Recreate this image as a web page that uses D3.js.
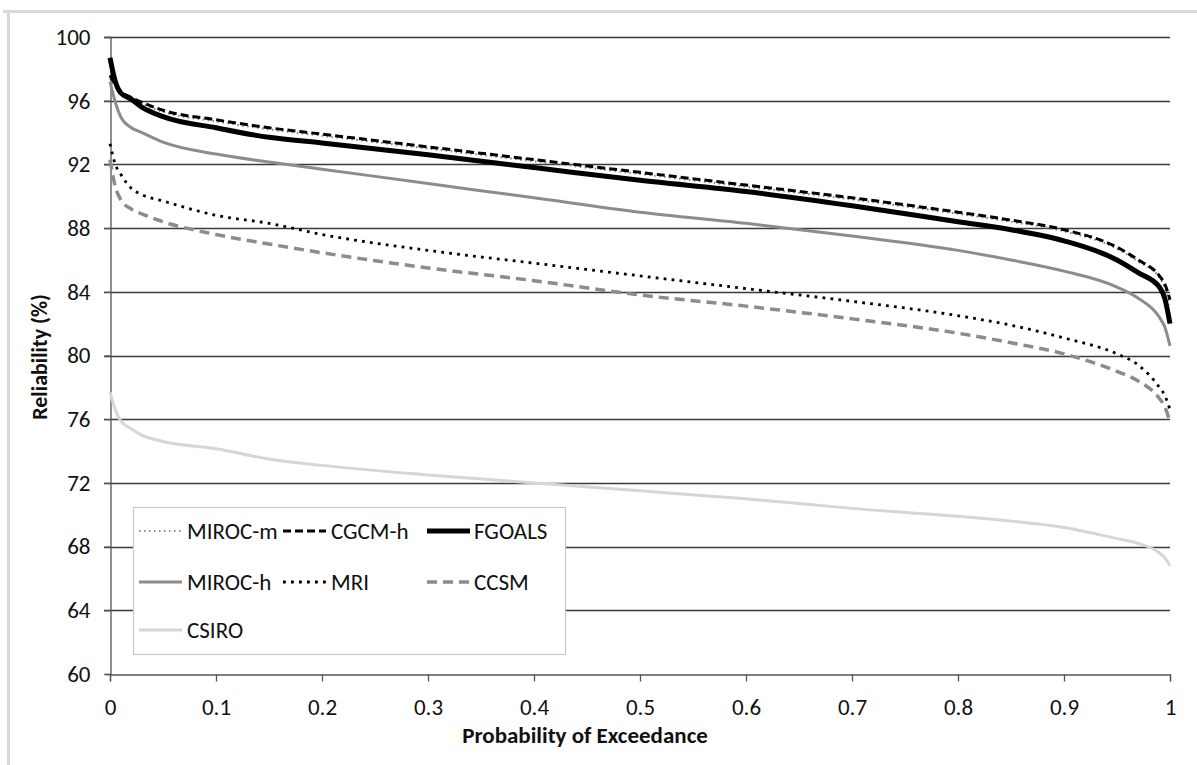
<!DOCTYPE html>
<html>
<head>
<meta charset="utf-8">
<script src="https://cdn.jsdelivr.net/npm/d3@7/dist/d3.min.js"></script>
<style>
  html, body { margin: 0; padding: 0; background: #fff; }
  svg { display: block; }
  text { font-family: Carlito, Lato, "Open Sans", sans-serif; fill: #111; }
</style>
</head>
<body>
<svg id="chart" width="1197" height="765"></svg>
<script>
// Exceedance probabilities shared by every model curve
const prob = [0, 0.005, 0.01, 0.02, 0.03, 0.05, 0.1, 0.15, 0.2, 0.3, 0.4, 0.5, 0.6, 0.7, 0.8, 0.85, 0.9, 0.95, 0.97, 0.99, 0.995, 1];

// Reliability (%) for each climate model
const mirocM = [97.4, 96.9, 96.5, 96.1, 95.8, 95.3, 94.7, 94.2, 93.8, 93.0, 92.2, 91.4, 90.6, 89.8, 88.9, 88.4, 87.8, 86.7, 85.9, 84.9, 84.3, 83.2];
const cgcmH  = [97.6, 97.0, 96.6, 96.2, 95.9, 95.4, 94.8, 94.3, 93.9, 93.1, 92.3, 91.5, 90.7, 89.9, 89.0, 88.5, 87.9, 86.8, 86.0, 85.0, 84.5, 83.5];
const fgoals = [98.7, 97.2, 96.5, 96.1, 95.6, 95.0, 94.3, 93.7, 93.35, 92.6, 91.8, 91.0, 90.3, 89.4, 88.4, 87.9, 87.2, 86.0, 85.2, 84.3, 83.6, 82.0];
const mirocH = [97.2, 95.9, 95.0, 94.3, 94.0, 93.4, 92.65, 92.15, 91.7, 90.8, 89.9, 89.0, 88.3, 87.5, 86.6, 86.0, 85.3, 84.3, 83.6, 82.4, 81.8, 80.6];
const mri    = [93.3, 92.0, 91.4, 90.5, 90.1, 89.7, 88.8, 88.3, 87.6, 86.6, 85.8, 85.0, 84.2, 83.4, 82.5, 81.9, 81.1, 80.1, 79.4, 78.0, 77.5, 76.6];
const ccsm   = [92.3, 90.6, 89.8, 89.2, 88.9, 88.4, 87.6, 87.0, 86.45, 85.5, 84.7, 83.8, 83.1, 82.3, 81.4, 80.8, 80.1, 79.0, 78.4, 77.3, 76.8, 75.8];
const csiro  = [77.7, 76.6, 75.9, 75.4, 75.0, 74.6, 74.15, 73.5, 73.1, 72.5, 72.0, 71.5, 71.0, 70.4, 69.9, 69.6, 69.2, 68.5, 68.2, 67.6, 67.3, 66.8];

const seriesNames = ["MIROC-m", "CGCM-h", "FGOALS", "MIROC-h", "MRI", "CCSM", "CSIRO"];
const xTicks = [0, 0.1, 0.2, 0.3, 0.4, 0.5, 0.6, 0.7, 0.8, 0.9, 1];
const yTicks = [60, 64, 68, 72, 76, 80, 84, 88, 92, 96, 100];

// Line styles per series
const styles = {
  "MIROC-m": { color: "#8a8a8a", width: 2.2, dash: "1.5,3.5" },
  "CGCM-h":  { color: "#000000", width: 3,   dash: "8,4" },
  "FGOALS":  { color: "#000000", width: 5,   dash: null },
  "MIROC-h": { color: "#8c8c8c", width: 3,   dash: null },
  "MRI":     { color: "#000000", width: 2.8, dash: "2.8,5.2" },
  "CCSM":    { color: "#8c8c8c", width: 3.5, dash: "10,6" },
  "CSIRO":   { color: "#d6d6d6", width: 3,   dash: null }
};

const seriesValues = [mirocM, cgcmH, fgoals, mirocH, mri, ccsm, csiro];
const series = seriesNames.map((name, i) => ({
  name,
  points: prob.map((p, j) => ({ p, v: seriesValues[i][j] }))
}));

const svg = d3.select("#chart");

// Outer frame (top and left edges)
svg.append("line").attr("x1", 3).attr("x2", 1197).attr("y1", 11.5).attr("y2", 11.5)
  .attr("stroke", "#d9d9d9").attr("stroke-width", 3);
svg.append("line").attr("x1", 8.5).attr("x2", 8.5).attr("y1", 10).attr("y2", 765)
  .attr("stroke", "#d9d9d9").attr("stroke-width", 3);

const margin = { left: 110, right: 27, top: 37, bottom: 91 };
const W = 1197, H = 765;
const x = d3.scaleLinear().domain([0, 1]).range([margin.left, W - margin.right]);
const y = d3.scaleLinear().domain([60, 100]).range([H - margin.bottom, margin.top]);

// Horizontal gridlines
svg.append("g").selectAll("line").data(yTicks.filter(t => t > 60)).join("line")
  .attr("x1", x(0) - 6).attr("x2", x(1))
  .attr("y1", d => Math.round(y(d)) + 0.5).attr("y2", d => Math.round(y(d)) + 0.5)
  .attr("stroke", "#3a3a3a").attr("stroke-width", 1.3);

const tickFont = "Carlito, Lato, 'Open Sans', sans-serif";
const fs = 23;

// Y axis
const yAxis = svg.append("g").attr("transform", `translate(${Math.round(x(0)) + 0.5},0)`)
  .call(d3.axisLeft(y).tickValues(yTicks).tickSize(6).tickPadding(14).tickFormat(d3.format("d")));
yAxis.select(".domain").attr("stroke", "#555").attr("stroke-width", 1.3);
yAxis.selectAll(".tick line").attr("stroke", "#555").attr("stroke-width", 1.3);
yAxis.selectAll(".tick text").attr("font-size", fs).attr("font-family", tickFont).attr("fill", "#111");

// X axis
const xAxis = svg.append("g").attr("transform", `translate(0,${Math.round(y(60)) + 0.5})`)
  .call(d3.axisBottom(x).tickValues(xTicks).tickSize(7).tickPadding(17)
    .tickFormat(d => d === 0 || d === 1 ? d3.format("d")(d) : d3.format(".1f")(d)));
xAxis.select(".domain").attr("stroke", "#555").attr("stroke-width", 1.3);
xAxis.selectAll(".tick line").attr("stroke", "#555").attr("stroke-width", 1.3);
xAxis.selectAll(".tick text").attr("font-size", fs).attr("font-family", tickFont).attr("fill", "#111");

// Curves
const line = d3.line().x(d => x(d.p)).y(d => y(d.v)).curve(d3.curveMonotoneX);
svg.append("g").selectAll("path").data(series).join("path")
  .attr("d", d => line(d.points))
  .attr("fill", "none")
  .attr("stroke", d => styles[d.name].color)
  .attr("stroke-width", d => styles[d.name].width)
  .attr("stroke-dasharray", d => styles[d.name].dash)
  .attr("stroke-linejoin", "round");

// Axis titles
svg.append("text").attr("x", 585).attr("y", 743).attr("text-anchor", "middle")
  .attr("font-size", 23).attr("font-weight", "bold").text("Probability of Exceedance");
svg.append("text").attr("transform", "translate(47,357) rotate(-90)").attr("text-anchor", "middle")
  .attr("font-size", 22).attr("font-weight", "bold").text("Reliability (%)");

// Legend
const lg = svg.append("g");
lg.append("rect").attr("x", 133.5).attr("y", 507.5).attr("width", 432).attr("height", 147)
  .attr("fill", "#fff").attr("stroke", "#c8c8c8").attr("stroke-width", 1.2);
const legendPos = [
  { sx: 139, tx: 187, y: 531 }, { sx: 283, tx: 331, y: 531 }, { sx: 427, tx: 474, y: 531 },
  { sx: 139, tx: 187, y: 582 }, { sx: 283, tx: 331, y: 582 }, { sx: 427, tx: 474, y: 582 },
  { sx: 139, tx: 187, y: 630 }
];
seriesNames.forEach((name, i) => {
  const pos = legendPos[i], st = styles[name];
  lg.append("line").attr("x1", pos.sx).attr("x2", pos.sx + 43).attr("y1", pos.y).attr("y2", pos.y)
    .attr("stroke", st.color).attr("stroke-width", st.width).attr("stroke-dasharray", st.dash);
  lg.append("text").attr("x", pos.tx).attr("y", pos.y).attr("dy", "0.35em")
    .attr("font-size", fs).text(name);
});
</script>
</body>
</html>
